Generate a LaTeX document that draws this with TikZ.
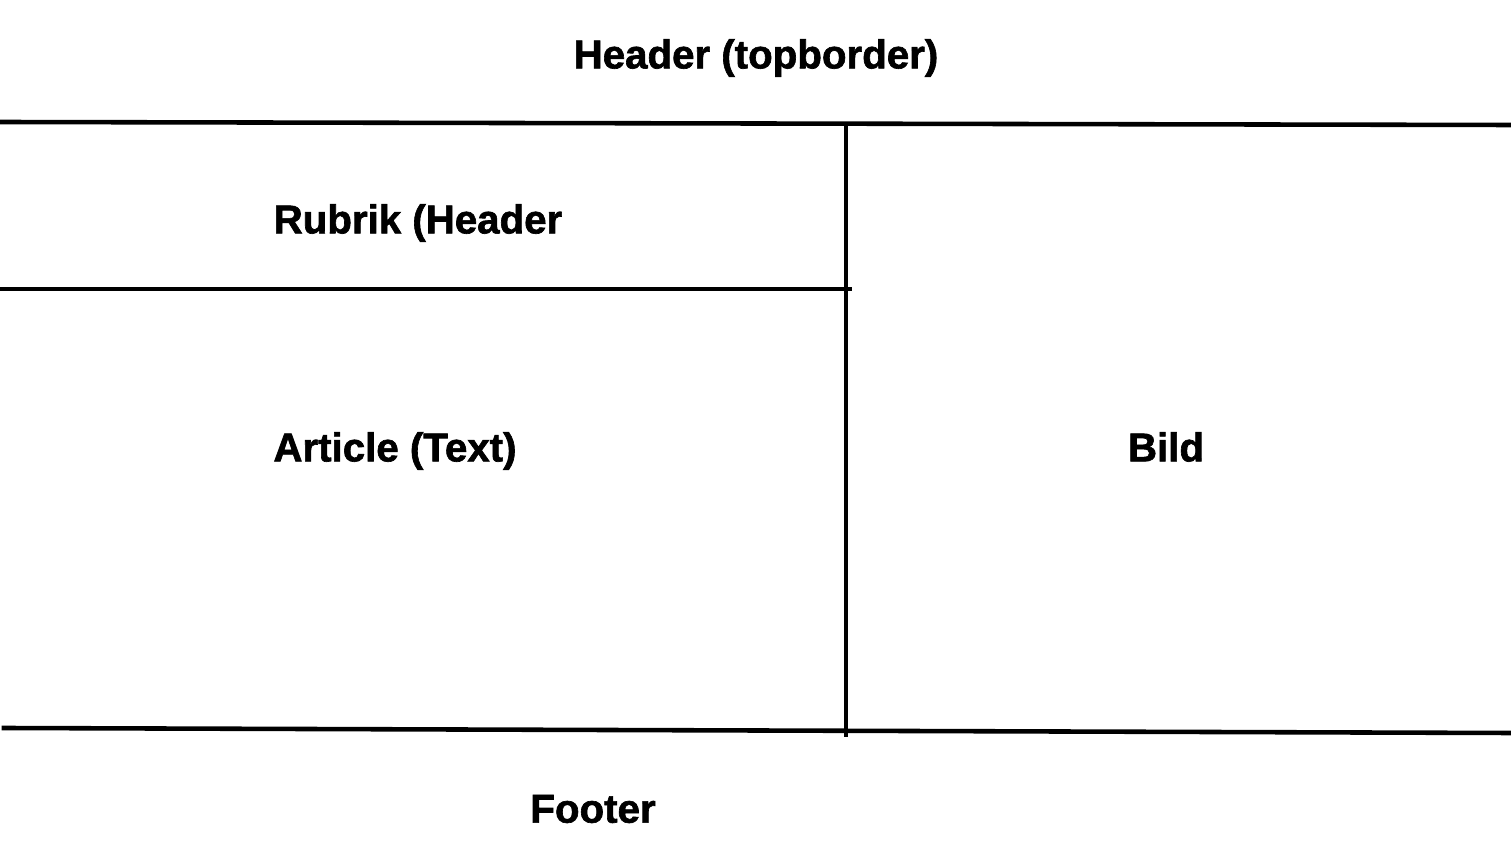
\documentclass[tikz,border=0pt]{standalone}
\usepackage{fontspec}
\setmainfont{Liberation Sans}[BoldFeatures={FakeBold=1.6}]
\usepackage{tikz}
\usetikzlibrary{positioning}
\tikzstyle{label} = [font=\fontsize{11.45pt}{13pt}\selectfont\bfseries, text centered, inner sep=0pt]
\tikzstyle{border} = [line width=1.3pt, line cap=rect]

\begin{document}
\begin{tikzpicture}[x=0.01cm, y=-0.01cm]
			\useasboundingbox (0,0) rectangle (1511,864);
			\node (header) [label] at (756,58) {Header (topborder)};
			\node (rubrik) [label] at (418,223) {Rubrik (Header};
			\node (article) [label] at (395,451) {Article (Text)};
			\node (bild) [label] at (1166,447) {Bild};
			\node (footer) [label] at (593,809) {Footer};
			%-----------------------------------------------
			\coordinate (topL) at (0,122);
			\coordinate (topR) at (1511,125);
			\coordinate (midL) at (0,289);
			\coordinate (midR) at (850,289);
			\coordinate (colT) at (846,125);
			\coordinate (colB) at (846,735);
			\coordinate (botL) at (4,728);
			\coordinate (botR) at (1511,733);
			%-----------------------------------------------
			\draw [border] (topL) -- (topR);
			\draw [border] (midL) -- (midR);
			\draw [border] (colT) -- (colB);
			\draw [border] (botL) -- (botR);
			\end{tikzpicture}
\end{document}
